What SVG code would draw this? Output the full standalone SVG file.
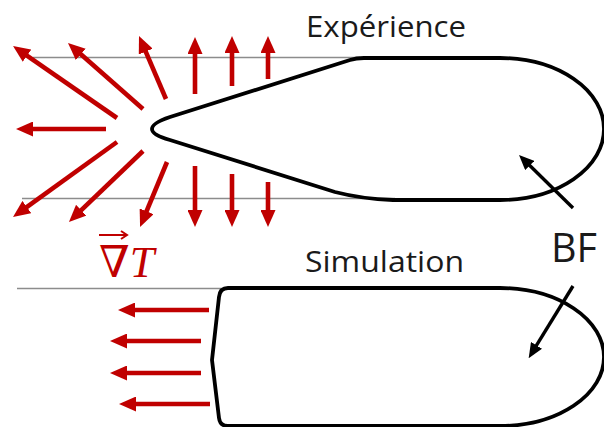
<svg xmlns="http://www.w3.org/2000/svg" width="604" height="427" viewBox="0 0 604 427">
<style>
.guide{stroke:#8c8c8c;stroke-width:1.6;fill:none}
.shape{stroke:#000;stroke-width:3.8;fill:none;stroke-linejoin:round}
.red{stroke:#c00000;stroke-width:4.6;fill:none}
.blk{stroke:#000;stroke-width:3.4;fill:none}
.lbl{font-family:"Open Sans","Liberation Sans",sans-serif;fill:#1a1a1a}
.math{font-family:"Liberation Serif","DejaVu Serif",serif;fill:#c00000}
</style>
<defs>
<marker id="rh" markerUnits="userSpaceOnUse" markerWidth="17" markerHeight="15" viewBox="0 0 17 15" refX="1" refY="7.5" orient="auto">
<path d="M0,0 L17,7.5 L0,15 Z" fill="#c00000"/>
</marker>
<marker id="bh" markerUnits="userSpaceOnUse" markerWidth="15" markerHeight="13" viewBox="0 0 15 13" refX="1" refY="6.5" orient="auto">
<path d="M0,0 L15,6.5 L0,13 Z" fill="#000"/>
</marker>
</defs>
<g id="guides">
<line class="guide" x1="33" y1="57.5" x2="360" y2="57.5"/>
<line class="guide" x1="22" y1="198.5" x2="395" y2="198.5"/>
<line class="guide" x1="17" y1="288.5" x2="230" y2="288.5"/>
</g>
<g id="experience-shape">
<path class="shape" d="M350,60 Q356,58 364,58 L500,58 A104 71 0 0 1 500,200 L393,200 Q362,199 335,192 L170,140 Q152,135 152,129 Q152,123 170,117 Z"/>
</g>
<g id="simulation-shape">
<path class="shape" d="M228,288 L500,288 A104 69 0 0 1 500,426 L228,426 Q220,426 219,418 L212,360 L219,297 Q220,288 228,288 Z"/>
</g>
<g id="connectors">
<line class="red" x1="195" y1="94" x2="195" y2="53" marker-end="url(#rh)"/>
<line class="red" x1="232" y1="86" x2="232" y2="52" marker-end="url(#rh)"/>
<line class="red" x1="268" y1="79" x2="268" y2="52" marker-end="url(#rh)"/>
<line class="red" x1="195" y1="166" x2="195" y2="211" marker-end="url(#rh)"/>
<line class="red" x1="232" y1="174" x2="232" y2="211" marker-end="url(#rh)"/>
<line class="red" x1="268" y1="182" x2="268" y2="211" marker-end="url(#rh)"/>
<line class="red" x1="166" y1="99" x2="145.3" y2="50.7" marker-end="url(#rh)"/>
<line class="red" x1="143" y1="109" x2="80" y2="53.6" marker-end="url(#rh)"/>
<line class="red" x1="117" y1="118" x2="26.2" y2="55.1" marker-end="url(#rh)"/>
<line class="red" x1="106" y1="129" x2="32" y2="129" marker-end="url(#rh)"/>
<line class="red" x1="117" y1="142" x2="26" y2="207.6" marker-end="url(#rh)"/>
<line class="red" x1="143" y1="151" x2="80.5" y2="210.9" marker-end="url(#rh)"/>
<line class="red" x1="167" y1="162" x2="146.2" y2="212.2" marker-end="url(#rh)"/>
<line class="red" x1="209" y1="310" x2="134" y2="310" marker-end="url(#rh)"/>
<line class="red" x1="201" y1="341" x2="126" y2="341" marker-end="url(#rh)"/>
<line class="red" x1="201" y1="373" x2="126" y2="373" marker-end="url(#rh)"/>
<line class="red" x1="210" y1="404" x2="135" y2="404" marker-end="url(#rh)"/>
<line class="blk" x1="573" y1="208" x2="529" y2="164.8" marker-end="url(#bh)"/>
<line class="blk" x1="573" y1="286" x2="536" y2="346.2" marker-end="url(#bh)"/>
</g>
<g id="labels">
<text class="lbl" x="306" y="37" font-size="30" textLength="160" lengthAdjust="spacingAndGlyphs">Expérience</text>
<text class="lbl" x="305" y="272" font-size="29" textLength="159" lengthAdjust="spacingAndGlyphs">Simulation</text>
<text class="lbl" x="551" y="262" font-size="40" textLength="46" lengthAdjust="spacingAndGlyphs">BF</text>
</g>
<g id="gradT">
<text class="math" x="99" y="277" font-size="44"><tspan font-family="DejaVu Serif, serif">∇</tspan><tspan font-style="italic">T</tspan></text>
<line x1="99" y1="235" x2="126" y2="235" stroke="#c00000" stroke-width="2"/>
<polyline points="121,231 127,235 121,239" stroke="#c00000" stroke-width="2" fill="none"/>
</g>
</svg>
